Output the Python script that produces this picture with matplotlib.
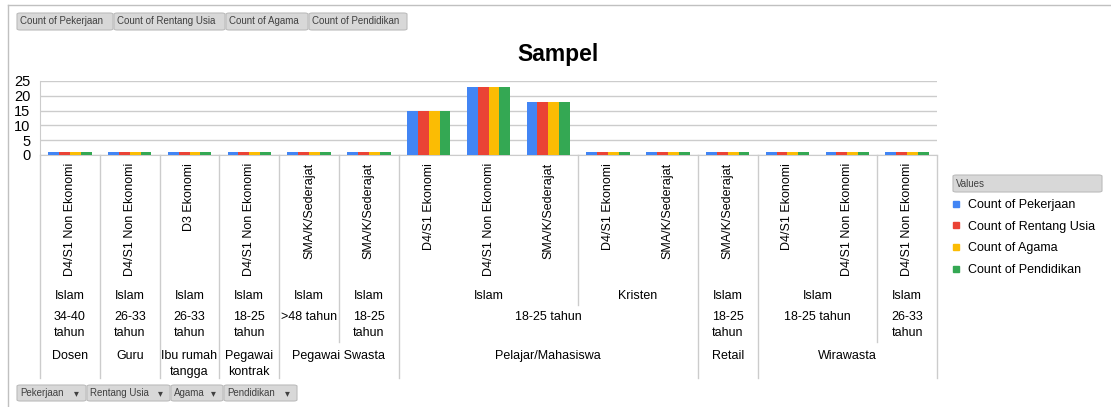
import textwrap
import matplotlib
matplotlib.use("Agg")
import matplotlib.pyplot as plt
import matplotlib.transforms as mtransforms
from matplotlib.patches import FancyBboxPatch
from matplotlib.lines import Line2D
import numpy as np

# pivot rows (outermost first)
pekerjaan = ["Dosen", "Guru", "Ibu rumah tangga", "Pegawai kontrak",
             "Pegawai Swasta", "Pegawai Swasta",
             "Pelajar/Mahasiswa", "Pelajar/Mahasiswa", "Pelajar/Mahasiswa",
             "Pelajar/Mahasiswa", "Pelajar/Mahasiswa",
             "Retail", "Wirawasta", "Wirawasta", "Wirawasta"]
rentang_usia = ["34-40 tahun", "26-33 tahun", "26-33 tahun", "18-25 tahun",
                ">48 tahun", "18-25 tahun",
                "18-25 tahun", "18-25 tahun", "18-25 tahun", "18-25 tahun", "18-25 tahun",
                "18-25 tahun", "18-25 tahun", "18-25 tahun", "26-33 tahun"]
agama = ["Islam"] * 9 + ["Kristen"] * 2 + ["Islam"] * 4
pendidikan = ["D4/S1 Non Ekonomi", "D4/S1 Non Ekonomi", "D3 Ekonomi", "D4/S1 Non Ekonomi",
              "SMA/K/Sederajat", "SMA/K/Sederajat",
              "D4/S1 Ekonomi", "D4/S1 Non Ekonomi", "SMA/K/Sederajat",
              "D4/S1 Ekonomi", "SMA/K/Sederajat",
              "SMA/K/Sederajat", "D4/S1 Ekonomi", "D4/S1 Non Ekonomi", "D4/S1 Non Ekonomi"]

count_pekerjaan = [1, 1, 1, 1, 1, 1, 15, 23, 18, 1, 1, 1, 1, 1, 1]
count_rentang_usia = [1, 1, 1, 1, 1, 1, 15, 23, 18, 1, 1, 1, 1, 1, 1]
count_agama = [1, 1, 1, 1, 1, 1, 15, 23, 18, 1, 1, 1, 1, 1, 1]
count_pendidikan = [1, 1, 1, 1, 1, 1, 15, 23, 18, 1, 1, 1, 1, 1, 1]

series_names = ["Count of Pekerjaan", "Count of Rentang Usia", "Count of Agama", "Count of Pendidikan"]
series_colors = ["#4285F4", "#EA4335", "#FBBC04", "#34A853"]

plt.rcParams["font.family"] = ["Liberation Sans", "DejaVu Sans"]

W, H = 1111, 407
fig = plt.figure(figsize=(W / 100, H / 100), dpi=100)


def fx(px):
    return px / W


def fy(py):
    return 1 - py / H


ax = fig.add_axes([fx(40), fy(155), fx(937) - fx(40), fy(81) - fy(155)])

n = len(pendidikan)
x = np.arange(n)
bw = 0.181
all_series = [count_pekerjaan, count_rentang_usia, count_agama, count_pendidikan]
for k, (vals, col) in enumerate(zip(all_series, series_colors)):
    ax.bar(x + (k - 1.5) * bw, vals, bw, color=col, zorder=3, linewidth=0)

ax.set_xlim(-0.5, n - 0.5)
ax.set_ylim(0, 25)
ax.set_yticks(range(0, 26, 5))
ax.set_xticks([])
ax.tick_params(axis="y", length=0, pad=7, labelsize=10.5)
ax.grid(axis="y", color="#cccccc", lw=1, zorder=0)
for s in ["top", "right"]:
    ax.spines[s].set_visible(False)
for s in ["left", "bottom"]:
    ax.spines[s].set_color("#cccccc")

fig.text(fx(558), fy(54), "Sampel", ha="center", va="center", fontsize=16.5, fontweight="bold")

# multi-level category axis
trans = mtransforms.blended_transform_factory(ax.transData, fig.transFigure)
levels = [pekerjaan, rentang_usia, agama, pendidikan]
text_y = [350, 311, 296, 163]
band_bottom = [378, 342, 305]

for i in range(n):
    ax.text(i, fy(text_y[3]), pendidikan[i], rotation=90, ha="center", va="top",
            fontsize=9, transform=trans)

for lv in range(3):
    i = 0
    while i < n:
        key = tuple(levels[j][i] for j in range(lv + 1))
        k = i
        while k + 1 < n and tuple(levels[j][k + 1] for j in range(lv + 1)) == key:
            k += 1
        label = levels[lv][i]
        if k == i:
            label = textwrap.fill(label, 9)
        va = "center" if lv == 2 else "top"
        ax.text((i + k) / 2, fy(text_y[lv]), label, ha="center", va=va, fontsize=9,
                linespacing=1.45, transform=trans)
        i = k + 1

# dividers between groups
for i in range(n + 1):
    if i == 0 or i == n:
        bottom = band_bottom[0]
    else:
        bottom = None
        for lv in range(3):
            if levels[lv][i] != levels[lv][i - 1]:
                bottom = band_bottom[lv]
                break
    if bottom is not None:
        fig.add_artist(Line2D([i - 0.5, i - 0.5], [fy(155), fy(bottom)], transform=trans,
                              color="#cccccc", lw=1))

# legend
handles = [Line2D([], [], marker="s", ls="", color=c, markersize=5) for c in series_colors]
ax.legend(handles, series_names, loc="upper left", bbox_to_anchor=(fx(952), fy(199)),
          bbox_transform=fig.transFigure, frameon=False, fontsize=9, handlelength=0.6,
          handletextpad=0.7, labelspacing=0.78, borderpad=0, borderaxespad=0)


def button(x0, x1, y0, y1, label, arrow=False):
    fig.add_artist(FancyBboxPatch((fx(x0), fy(y1)), fx(x1) - fx(x0), fy(y0) - fy(y1),
                                  boxstyle="round,pad=0,rounding_size=0.003",
                                  transform=fig.transFigure, facecolor="#d8d8d8",
                                  edgecolor="#bcbcbc", lw=0.8))
    fig.text(fx(x0 + 3), fy((y0 + y1) / 2), label, ha="left", va="center",
             fontsize=7, color="#404040")
    if arrow:
        fig.text(fx(x1 - 10), fy((y0 + y1) / 2), "\u25be", ha="center", va="center",
                 fontsize=7, color="#404040", family="DejaVu Sans")


button(953, 1102, 175, 192, "Values")
for lab, a, b in [("Count of Pekerjaan", 17, 113), ("Count of Rentang Usia", 114, 225),
                  ("Count of Agama", 226, 308), ("Count of Pendidikan", 309, 407)]:
    button(a, b, 13, 30, lab)
for lab, a, b in [("Pekerjaan", 17, 86), ("Rentang Usia", 87, 170),
                  ("Agama", 171, 223), ("Pendidikan", 224, 297)]:
    button(a, b, 385, 401, lab, arrow=True)

# outer chart border
fig.add_artist(Line2D([fx(8), 1], [fy(5), fy(5)], transform=fig.transFigure, color="#c0c0c0", lw=1))
fig.add_artist(Line2D([fx(8), fx(8)], [fy(5), 0], transform=fig.transFigure, color="#c0c0c0", lw=1))

fig.savefig("out.png", dpi=100)
